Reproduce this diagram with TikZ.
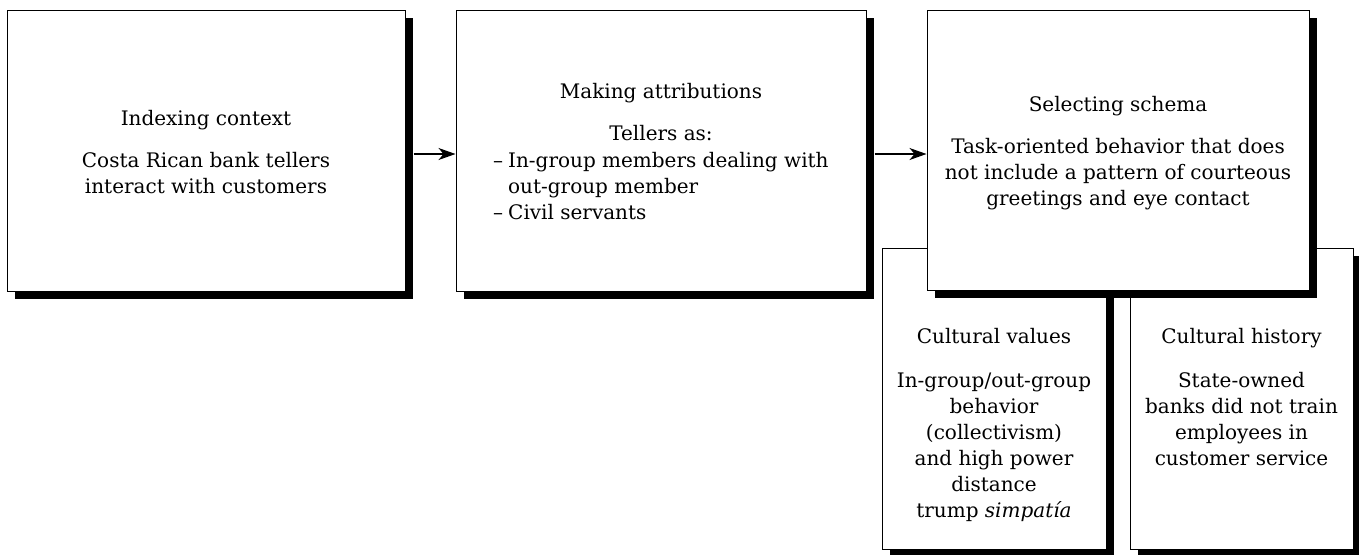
\documentclass[tikz,border=0pt]{standalone}
\usepackage{fontspec}
\setmainfont{DejaVu Serif}
\usetikzlibrary{arrows.meta,shadows}
\begin{document}
\begin{tikzpicture}[x=1pt,y=-1pt,
  box/.style={draw=black, line width=1pt, fill=white, inner sep=0pt, rectangle,
     drop shadow={shadow xshift=8pt, shadow yshift=-8pt, fill=black, opacity=1}},
  ttl/.style={anchor=base, inner sep=0pt, font=\fontsize{20}{26}\selectfont},
  txt/.style={anchor=base, inner sep=0pt, align=center, font=\fontsize{20}{26}\selectfont},
  lst/.style={anchor=base west, inner sep=0pt, align=left, font=\fontsize{20}{26}\selectfont},
  arr/.style={line width=1.2pt, -{Stealth[length=17pt,width=12pt,inset=5pt]}}
]
\useasboundingbox (0,0) rectangle (1359,554);
% boxes
\node[box, minimum width=398pt, minimum height=281pt] (b1) at (206,150.5) {};
\node[box, minimum width=410pt, minimum height=281pt] (b2) at (661,150.5) {};
\node[box, minimum width=224pt, minimum height=301pt] (cv) at (994,398.5) {};
\node[box, minimum width=223pt, minimum height=301pt] (ch) at (1241.5,398.5) {};
\node[box, minimum width=382pt, minimum height=280pt] (b3) at (1118,150) {};
% texts (multi-line nodes: base = baseline of the last line)
\node[ttl] (t1) at (206,125) {Indexing context};
\node[txt] (d1) at (206,193) {Costa Rican bank tellers\\interact with customers};
\node[ttl] (t2) at (661,98) {Making attributions};
\node[ttl] (s2) at (661,140) {Tellers as:};
\node[lst] (d2) at (493,219) {\makebox[15pt][l]{–}In-group members dealing with\\\hspace*{15pt}out-group member\\\makebox[15pt][l]{–}Civil servants};
\node[ttl] (t3) at (1118,111) {Selecting schema};
\node[txt] (d3) at (1118,205) {Task-oriented behavior that does\\not include a pattern of courteous\\greetings and eye contact};
\node[ttl] (t4) at (994,343) {Cultural values};
\node[txt] (d4) at (994,517) {In-group/out-group\\behavior\\(collectivism)\\and high power\\distance\\trump \textit{simpatía}};
\node[ttl] (t5) at (1241.5,343) {Cultural history};
\node[txt] (d5) at (1241.5,465) {State-owned\\banks did not train\\employees in\\customer service};
% arrows
\draw[arr] ([xshift=8pt,yshift=-3.5pt]b1.east) -- ([yshift=-3.5pt]b2.west);
\draw[arr] ([xshift=8pt,yshift=-3.5pt]b2.east) -- ([yshift=-4pt]b3.west);
\end{tikzpicture}
\end{document}
